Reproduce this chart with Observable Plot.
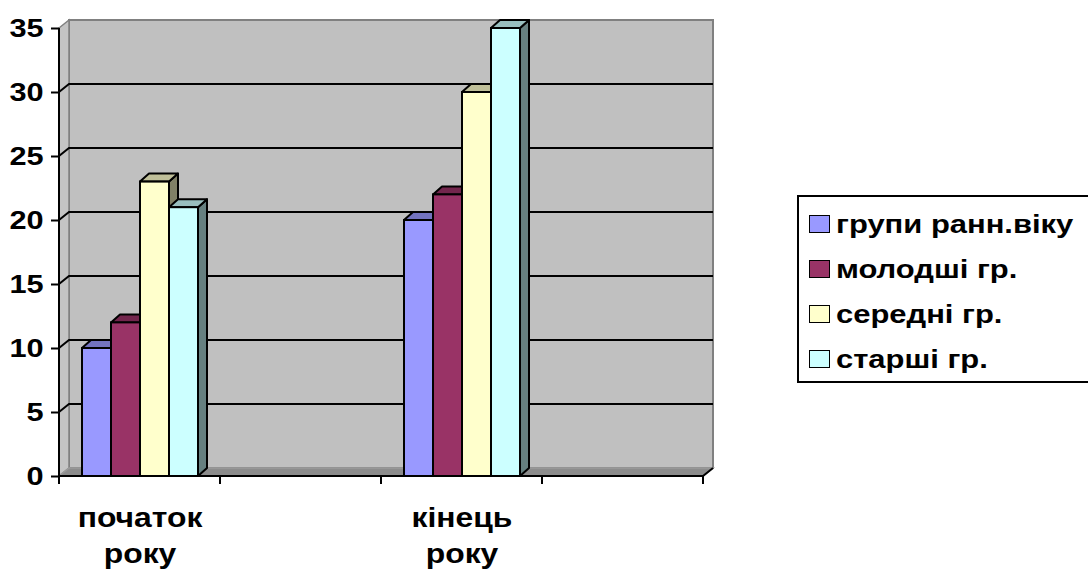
<!DOCTYPE html>
<html><head><meta charset="utf-8">
<script src="https://cdn.jsdelivr.net/npm/d3@7"></script>
<script src="https://cdn.jsdelivr.net/npm/@observablehq/plot@0.6"></script>
<style>
html,body{margin:0;padding:0;background:#fff;}
#wrap{position:relative;width:1088px;height:572px;overflow:hidden;font-family:"Liberation Sans",Arial,sans-serif;}
#legend{position:absolute;left:797px;top:195px;width:330px;height:188px;border:2px solid #000;box-sizing:border-box;background:#fff;}
.row{position:absolute;left:10px;height:24px;display:flex;align-items:center;}
.sw{width:19px;height:16px;border:1.5px solid #000;flex:none;}
.lt{font-weight:bold;font-size:26px;transform:scaleX(1.19);transform-origin:left center;margin-left:6px;white-space:nowrap;color:#000;}
</style>
</head><body>
<div id="wrap"><div id="chart"></div><div id="legend"></div></div>
<script>
// ---- data ----
const categories = ["початок\nроку", "", "кінець\nроку", " "];
const series = ["групи ранн.віку", "молодші гр.", "середні гр.", "старші гр."];
const startValues = [10, 12, 23, 21];
const endValues = [20, 22, 30, 35];
const yTicks = [0, 5, 10, 15, 20, 25, 30, 35];
const seriesColors = ["#9999ff", "#993366", "#ffffcc", "#ccffff"];
const topColors = ["#7373bf", "#73264d", "#bfbf99", "#99bfbf"];
const sideColors = ["#4d4d80", "#4d1a33", "#808066", "#668080"];

const rows = [
  ...series.map((s, i) => ({cat: categories[0], series: s, value: startValues[i]})),
  ...series.map((s, i) => ({cat: categories[2], series: s, value: endValues[i]}))
];

const STRETCH = 1.18;
const WALL = [10, -8];
const BAR = [9, -8];

const chart = Plot.plot({
  width: 1088, height: 572,
  marginLeft: 59, marginRight: 385, marginTop: 28, marginBottom: 96,
  style: {fontFamily: "'Liberation Sans', Arial, sans-serif", fontSize: "26px", fontWeight: "bold", overflow: "visible", background: "transparent"},
  fx: {domain: categories, padding: 0, label: null, axis: null},
  x: {domain: series, paddingInner: 0, paddingOuter: 0.75, axis: null},
  y: {domain: [0, 35], axis: null},
  color: {domain: series, range: seriesColors},
  marks: [
    Plot.axisY({ticks: yTicks, tickSize: 8, tickPadding: 8, strokeWidth: 2, fontSize: 26, fontWeight: "bold", label: null}),
    Plot.axisFx({anchor: "bottom", tickSize: 0, tickPadding: 24, fontSize: 27, fontWeight: "bold", lineHeight: 1.36, label: null}),
    Plot.barY(rows, {fx: "cat", x: "series", y: "value", fill: "series", stroke: "#000", strokeWidth: 2})
  ]
});
document.getElementById("chart").appendChild(chart);

const svg = d3.select(chart);

// keep the y axis only in the leftmost facet
svg.selectAll('g[aria-label="y-axis tick"], g[aria-label="y-axis tick label"]').each(function () {
  const kids = Array.from(this.children).filter(k => k.tagName.toLowerCase() === "g");
  kids.slice(1).forEach(k => k.remove());
});

const yS = chart.scale("y"), fxS = chart.scale("fx");
const L = fxS.apply(categories[0]);
const R = fxS.apply(categories[categories.length - 1]) + fxS.bandwidth;
const yT = yS.apply(yTicks[yTicks.length - 1]), y0 = yS.apply(0);
const pts = a => a.map(p => p.join(",")).join(" ");

// background: walls, floor, gridlines
const bg = svg.insert("g", ":first-child");
bg.append("polygon").attr("points", pts([[L + WALL[0], yT + WALL[1]], [R + WALL[0], yT + WALL[1]], [R + WALL[0], y0 + WALL[1]], [L + WALL[0], y0 + WALL[1]]]))
  .attr("fill", "#c0c0c0").attr("stroke", "#808080").attr("stroke-width", 2);
bg.append("polygon").attr("points", pts([[L, yT], [L + WALL[0], yT + WALL[1]], [L + WALL[0], y0 + WALL[1]], [L, y0]]))
  .attr("fill", "#c4c4c4").attr("stroke", "#808080").attr("stroke-width", 1.5);
bg.append("polygon").attr("points", pts([[L, y0], [R, y0], [R + WALL[0], y0 + WALL[1]], [L + WALL[0], y0 + WALL[1]]]))
  .attr("fill", "#8c8c8c").attr("stroke", "#9a9a9a").attr("stroke-width", 1.5);
yTicks.filter(v => v > 0 && v < yTicks[yTicks.length - 1]).forEach(v => {
  const yy = yS.apply(v);
  bg.append("polyline").attr("points", pts([[L, yy], [L + WALL[0], yy + WALL[1]], [R + WALL[0], yy + WALL[1]]]))
    .attr("fill", "none").attr("stroke", "#000").attr("stroke-width", 2);
});

// 3D faces for bars
svg.selectAll('g[aria-label="bar"] rect').each(function () {
  const r = d3.select(this);
  const x = +r.attr("x"), y = +r.attr("y"), w = +r.attr("width"), h = +r.attr("height");
  const i = Math.max(0, seriesColors.indexOf((r.attr("fill") || "").toLowerCase()));
  const p = this.parentNode;
  const side = document.createElementNS("http://www.w3.org/2000/svg", "polygon");
  side.setAttribute("points", pts([[x + w, y], [x + w + BAR[0], y + BAR[1]], [x + w + BAR[0], y + h + BAR[1]], [x + w, y + h]]));
  side.setAttribute("fill", sideColors[i]); side.setAttribute("stroke", "#000"); side.setAttribute("stroke-width", 2); side.setAttribute("stroke-linejoin", "round");
  const top = document.createElementNS("http://www.w3.org/2000/svg", "polygon");
  top.setAttribute("points", pts([[x, y], [x + BAR[0], y + BAR[1]], [x + w + BAR[0], y + BAR[1]], [x + w, y]]));
  top.setAttribute("fill", topColors[i]); top.setAttribute("stroke", "#000"); top.setAttribute("stroke-width", 2); top.setAttribute("stroke-linejoin", "round");
  p.insertBefore(side, this);
  p.insertBefore(top, this);
});

// front axis lines and category boundary ticks
const fg = svg.append("g").attr("stroke", "#000").attr("stroke-width", 2).attr("fill", "none");
fg.append("line").attr("x1", L).attr("x2", L).attr("y1", yT).attr("y2", y0 + 8);
fg.append("line").attr("x1", L).attr("x2", R).attr("y1", y0).attr("y2", y0);
fg.append("line").attr("x1", R).attr("x2", R + WALL[0]).attr("y1", y0).attr("y2", y0 + WALL[1]);
[...categories.map(c => fxS.apply(c)), R].forEach(bx => {
  fg.append("line").attr("x1", bx).attr("x2", bx).attr("y1", y0).attr("y2", y0 + 8);
});

// horizontal stretch of tick labels (Excel-style wide text)
svg.selectAll('g[aria-label="y-axis tick label"] text, g[aria-label="fx-axis tick label"] text').each(function () {
  const x = parseFloat(this.getAttribute("x")) || 0;
  const old = this.getAttribute("transform") || "";
  this.setAttribute("transform", `${old} translate(${x},0) scale(${STRETCH},1) translate(${-x},0)`);
});

// legend
const leg = document.getElementById("legend");
const rowTops = [15, 60, 105, 150];
series.forEach((s, i) => {
  const row = document.createElement("div");
  row.className = "row";
  row.style.top = rowTops[i] + "px";
  const sw = document.createElement("div");
  sw.className = "sw"; sw.style.background = seriesColors[i];
  const t = document.createElement("span");
  t.className = "lt"; t.textContent = s;
  row.appendChild(sw); row.appendChild(t);
  leg.appendChild(row);
});
</script>
</body></html>
